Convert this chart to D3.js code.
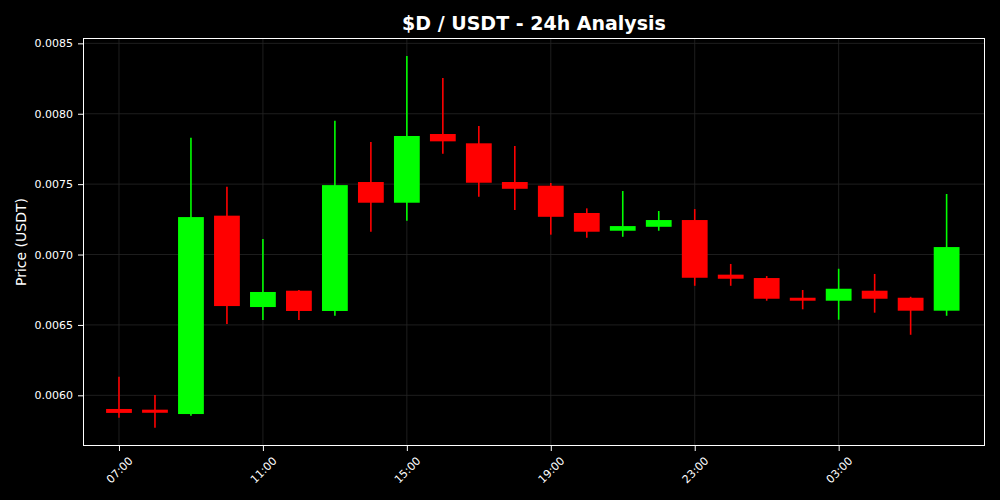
<!DOCTYPE html>
<html><head><meta charset="utf-8">
<script src="https://cdn.jsdelivr.net/npm/d3@7"></script>
<style>html,body{margin:0;padding:0;background:#000;}svg{display:block;}</style>
</head><body>
<svg id="chart" width="1000" height="500"></svg>
<script>
const hours = ["07:00","08:00","09:00","10:00","11:00","12:00","13:00","14:00","15:00","16:00","17:00","18:00","19:00","20:00","21:00","22:00","23:00","00:00","01:00","02:00","03:00","04:00","05:00","06:00"];
const opens  = [0.005903,0.005898,0.005867,0.007276,0.006627,0.006743,0.006599,0.007515,0.007368,0.007856,0.007790,0.007515,0.007489,0.007295,0.007169,0.007197,0.007245,0.006857,0.006833,0.006693,0.006672,0.006743,0.006693,0.006601];
const closes = [0.005875,0.005876,0.007266,0.006634,0.006734,0.006599,0.007493,0.007368,0.007842,0.007804,0.007510,0.007467,0.007268,0.007162,0.007202,0.007245,0.006835,0.006828,0.006686,0.006672,0.006757,0.006686,0.006601,0.007053];
const highs  = [0.006132,0.006002,0.007830,0.007481,0.007110,0.006748,0.007950,0.007799,0.008410,0.008254,0.007913,0.007771,0.007508,0.007328,0.007451,0.007309,0.007323,0.006933,0.006847,0.006748,0.006899,0.006862,0.006700,0.007430];
const lows   = [0.005841,0.005770,0.005855,0.006506,0.006535,0.006535,0.006565,0.007162,0.007240,0.007716,0.007411,0.007316,0.007141,0.007119,0.007126,0.007169,0.006778,0.006778,0.006672,0.006611,0.006537,0.006587,0.006430,0.006565];
const xTickLabels = ["07:00","11:00","15:00","19:00","23:00","03:00"];
const yTicks = [0.0060,0.0065,0.0070,0.0075,0.0080,0.0085];
const title = "$D / USDT - 24h Analysis";
const yLabel = "Price (USDT)";

const svg = d3.select("#chart");
const L = 83, R = 985, T = 38, B = 446;
svg.append("rect").attr("width",1000).attr("height",500).attr("fill","#000");

const base = new Date(2024,0,1,7,0,0);
const times = hours.map((h,i)=> d3.timeHour.offset(base, i));
const x = d3.scaleTime()
  .domain([d3.timeHour.offset(base,-1), d3.timeMinute.offset(base, 24*60+4)])
  .range([L,R]);
const y = d3.scaleLinear().domain([0.005640,0.008538]).range([B,T]);

const data = hours.map((h,i)=>({t:times[i],o:opens[i],c:closes[i],h:highs[i],l:lows[i]}));
const tickTimes = xTickLabels.map(lbl => times[hours.indexOf(lbl)]);

// grid
const g = svg.append("g");
g.selectAll(".gx").data(tickTimes).join("line")
  .attr("x1",d=>x(d)).attr("x2",d=>x(d)).attr("y1",T).attr("y2",B)
  .attr("stroke","#262626").attr("stroke-width",0.8);
g.selectAll(".gy").data(yTicks).join("line")
  .attr("x1",L).attr("x2",R).attr("y1",d=>y(d)).attr("y2",d=>y(d))
  .attr("stroke","#262626").attr("stroke-width",0.8);

// candles
const bw = x(d3.timeMinute.offset(base,43)) - x(base);
const cg = svg.append("g");
cg.selectAll(".wick").data(data).join("line")
  .attr("x1",d=>x(d.t)).attr("x2",d=>x(d.t))
  .attr("y1",d=>y(d.h)).attr("y2",d=>y(d.l))
  .attr("stroke",d=>d.c>=d.o?"#00ff00":"#ff0000").attr("stroke-width",1.6);
cg.selectAll(".body").data(data).join("rect")
  .attr("x",d=>x(d.t)-bw/2).attr("width",bw)
  .attr("y",d=>y(Math.max(d.o,d.c)))
  .attr("height",d=>Math.max(1,Math.abs(y(d.o)-y(d.c))))
  .attr("fill",d=>d.c>=d.o?"#00ff00":"#ff0000");

// frame
svg.append("rect").attr("x",L+0.5).attr("y",T+0.5).attr("width",R-L-1).attr("height",B-T-1)
  .attr("fill","none").attr("stroke","#fff").attr("stroke-width",1);

// axes
const fmt = d3.timeFormat("%H:%M");
const xAxis = svg.append("g").attr("transform",`translate(0,${B})`)
  .call(d3.axisBottom(x).tickValues(tickTimes).tickFormat(fmt).tickSize(5).tickPadding(3));
xAxis.select(".domain").remove();
xAxis.selectAll("line").attr("stroke","#fff");
xAxis.selectAll("text").attr("fill","#fff").attr("font-family","DejaVu Sans").attr("font-size",11)
  .attr("text-anchor","middle").attr("dy","0.35em").attr("y",null)
  .attr("transform","translate(0,24) rotate(-45)");

const yAxis = svg.append("g").attr("transform",`translate(${L},0)`)
  .call(d3.axisLeft(y).tickValues(yTicks).tickFormat(d3.format(".4f")).tickSize(5).tickPadding(5));
yAxis.select(".domain").remove();
yAxis.selectAll("line").attr("stroke","#fff");
yAxis.selectAll("text").attr("fill","#fff").attr("font-family","DejaVu Sans").attr("font-size",11);

svg.append("text").attr("x",(L+R)/2).attr("y",30).attr("text-anchor","middle")
  .attr("fill","#fff").attr("font-family","DejaVu Sans").attr("font-weight","bold").attr("font-size",19)
  .text(title);
svg.append("text").attr("transform",`translate(26,${(T+B)/2}) rotate(-90)`).attr("text-anchor","middle")
  .attr("fill","#fff").attr("font-family","DejaVu Sans").attr("font-size",14)
  .text(yLabel);
</script>
</body></html>
